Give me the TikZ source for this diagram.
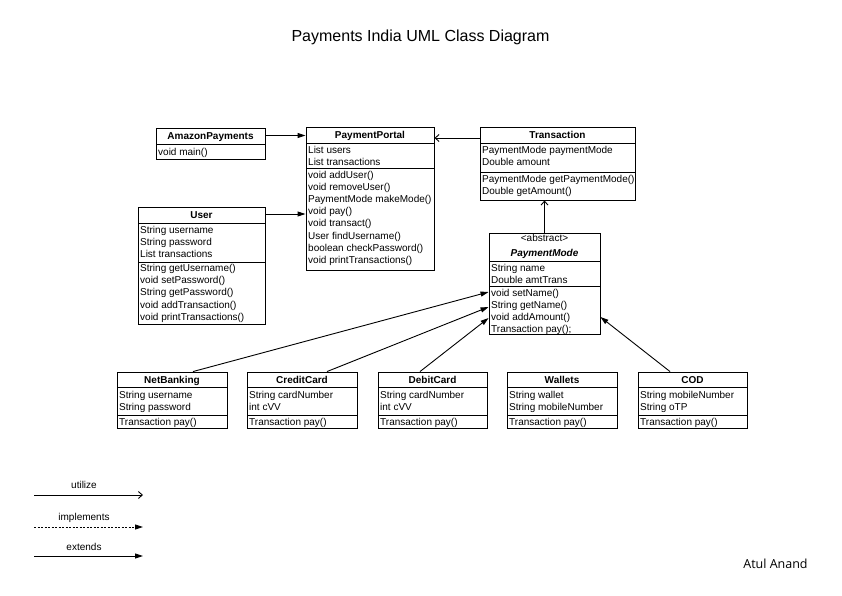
\documentclass[tikz,border=0pt]{standalone}
\usepackage{fontspec}
\setmainfont{Liberation Sans}
\newfontfamily\signfont{Open Sans}
\usetikzlibrary{arrows.meta,fit}
\tikzset{
  cls/.style={draw, line width=0.9pt, inner sep=0pt},
  cmp/.style={line width=0.9pt},
  hdr/.style={font=\bfseries\fontsize{10}{12}\selectfont, anchor=base, inner sep=0pt},
  txt/.style={font=\fontsize{10}{12.2}\selectfont, anchor=base west, inner xsep=2pt, inner ysep=0pt},
  lbl/.style={font=\fontsize{10}{12}\selectfont, anchor=base, inner sep=0pt},
  uses/.style={-{Straight Barb[length=4pt,width=7pt]}, line width=0.9pt},
  ext/.style={-{Triangle[length=8pt,width=5pt]}, line width=0.9pt},
  impl/.style={ext, dash pattern=on 2pt off 1.5pt},
}
\newcommand\umlrows[4]{%
  \foreach \t [count=\i] in {#4} {\node[txt] (#1-\i) at ({#2},{#3+(\i-1)*12.2}) {\t};}}
\begin{document}
\begin{tikzpicture}[x=1pt,y=-1pt]
\useasboundingbox (0,0) rectangle (842,595);
\fill[white] (0,0) rectangle (842,595);

\node[anchor=base, font=\fontsize{16}{19}\selectfont] (title) at (420.5,41.7) {Payments India UML Class Diagram};

% AmazonPayments
\node[cls, fit={(156,128) (265,159)}] (amazon) {};
\draw[cmp] (156,144) -- (265,144);
\node[hdr] (amazon-h) at (210.5,139.8) {AmazonPayments};
\umlrows{amazon-m}{156}{155.8}{void main()}

% PaymentPortal
\node[cls, fit={(306,127) (434,270)}] (portal) {};
\draw[cmp] (306,143) -- (434,143);
\draw[cmp] (306,168) -- (434,168);
\node[hdr] (portal-h) at (370,138.8) {PaymentPortal};
\umlrows{portal-a}{306}{153.3}{List users,List transactions}
\umlrows{portal-m}{306}{178}{void addUser(),void removeUser(),PaymentMode makeMode(),void pay(),void transact(),User findUsername(),boolean checkPassword(),void printTransactions()}

% Transaction
\node[cls, fit={(480,127) (635,200)}] (trans) {};
\draw[cmp] (480,143) -- (635,143);
\draw[cmp] (480,172) -- (635,172);
\node[hdr] (trans-h) at (557.5,138.8) {Transaction};
\umlrows{trans-a}{480}{153.3}{PaymentMode paymentMode,Double amount}
\umlrows{trans-m}{480}{182.5}{PaymentMode getPaymentMode(),Double getAmount()}

% User
\node[cls, fit={(138,207) (265,324)}] (user) {};
\draw[cmp] (138,223) -- (265,223);
\draw[cmp] (138,262) -- (265,262);
\node[hdr] (user-h) at (201.5,218.8) {User};
\umlrows{user-a}{138}{233.5}{String username,String password,List transactions}
\umlrows{user-m}{138}{271.5}{String getUsername(),void setPassword(),String getPassword(),void addTransaction(),void printTransactions()}

% PaymentMode
\node[cls, fit={(489,233) (600,334)}] (pm) {};
\draw[cmp] (489,261) -- (600,261);
\draw[cmp] (489,286) -- (600,286);
\node[lbl] (pm-s) at (544.5,241.8) {<abstract>};
\node[hdr, font=\bfseries\itshape\fontsize{10}{12}\selectfont] (pm-h) at (544.5,256.6) {PaymentMode};
\umlrows{pm-a}{489}{271}{String name,Double amtTrans}
\umlrows{pm-m}{489}{296}{void setName(),String getName(),void addAmount(),Transaction pay();}

% Subclasses
\node[cls, fit={(117,372) (227,428)}] (nb) {};
\draw[cmp] (117,387) -- (227,387);
\draw[cmp] (117,415) -- (227,415);
\node[hdr] (nb-h) at (172,383.2) {NetBanking};
\umlrows{nb-a}{117}{398.3}{String username,String password}
\umlrows{nb-m}{117}{425}{Transaction pay()}

\node[cls, fit={(247,372) (357,428)}] (cc) {};
\draw[cmp] (247,387) -- (357,387);
\draw[cmp] (247,415) -- (357,415);
\node[hdr] (cc-h) at (302,383.2) {CreditCard};
\umlrows{cc-a}{247}{398.3}{String cardNumber,int cVV}
\umlrows{cc-m}{247}{425}{Transaction pay()}

\node[cls, fit={(378,372) (487,428)}] (dc) {};
\draw[cmp] (378,387) -- (487,387);
\draw[cmp] (378,415) -- (487,415);
\node[hdr] (dc-h) at (432.5,383.2) {DebitCard};
\umlrows{dc-a}{378}{398.3}{String cardNumber,int cVV}
\umlrows{dc-m}{378}{425}{Transaction pay()}

\node[cls, fit={(507,372) (617,428)}] (wal) {};
\draw[cmp] (507,387) -- (617,387);
\draw[cmp] (507,415) -- (617,415);
\node[hdr] (wal-h) at (562,383.2) {Wallets};
\umlrows{wal-a}{507}{398.3}{String wallet,String mobileNumber}
\umlrows{wal-m}{507}{425}{Transaction pay()}

\node[cls, fit={(638,372) (747,428)}] (cod) {};
\draw[cmp] (638,387) -- (747,387);
\draw[cmp] (638,415) -- (747,415);
\node[hdr] (cod-h) at (692.5,383.2) {COD};
\umlrows{cod-a}{638}{398.3}{String mobileNumber,String oTP}
\umlrows{cod-m}{638}{425}{Transaction pay()}

% Connectors
\coordinate (a1) at ([yshift=8pt]amazon.east);
\draw[ext] (a1) -- (a1 -| portal.west);
\coordinate (u1) at ([yshift=51.5pt]user.east);
\draw[ext] (u1) -- (u1 -| portal.west);
\coordinate (t1) at ([yshift=25.5pt]trans.west);
\draw[uses] (t1) -- (t1 -| portal.east);
\draw[uses] (pm.north) -- (pm.north |- trans.south);
\draw[ext] ([xshift=21pt]nb.north) -- ([yshift=-8.5pt]pm.west);
\draw[ext] ([xshift=25pt]cc.north) -- ([yshift=-23.5pt]pm.west);
\draw[ext] ([xshift=-12.5pt]dc.north) -- ([yshift=-34.5pt]pm.west);
\draw[ext] ([xshift=-22.5pt]cod.north) -- ([yshift=-33.5pt]pm.east);

% Legend
\coordinate (lu1) at (34,495); \coordinate (lu2) at (143,495);
\coordinate (li1) at (34,527); \coordinate (li2) at (143,527);
\coordinate (le1) at (34,556); \coordinate (le2) at (143,556);
\draw[uses] (lu1) -- (lu2);
\draw[impl] (li1) -- (li2);
\draw[ext] (le1) -- (le2);
\node[lbl] (lu) at (84,488.6) {utilize};
\node[lbl] (li) at (84,520.3) {implements};
\node[lbl] (le) at (84,550.3) {extends};

\node[anchor=base, font=\signfont\fontsize{12.5}{15}\selectfont] (author) at (775.5,568.3) {Atul Anand};
\end{tikzpicture}
\end{document}
